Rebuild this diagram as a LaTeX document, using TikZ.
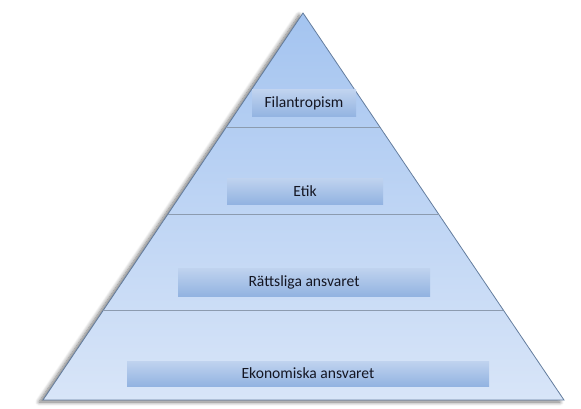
\documentclass[tikz,border=0pt]{standalone}
\usepackage{fontspec}
\setmainfont{Carlito}
\usetikzlibrary{calc,shadows.blur}
\definecolor{triTop}{RGB}{164,196,240}
\definecolor{triBot}{RGB}{216,229,248}
\definecolor{edgeC}{RGB}{100,125,158}
\definecolor{divC}{RGB}{140,155,175}
\definecolor{boxTop}{RGB}{192,211,239}
\definecolor{boxBot}{RGB}{146,179,225}
\definecolor{txtC}{RGB}{20,22,35}
\tikzset{
  level/.style={top color=boxTop, bottom color=boxBot, draw=none,
    inner sep=0pt, text=txtC, font=\fontsize{15.6}{18}\selectfont},
  divider/.style={draw=divC, line width=0.8pt},
}
\begin{document}
\begin{tikzpicture}[x=1pt,y=-1pt]
\useasboundingbox (0,0) rectangle (581,409);
\coordinate (A) at (303,13);
\coordinate (L) at (43,400);
\coordinate (R) at (564,400);
\path[top color=triTop, bottom color=triBot,
  blur shadow={shadow xshift=-4pt, shadow yshift=-2pt, shadow blur steps=8, shadow blur radius=4pt, shadow opacity=55}]
  (A) -- (R) -- (L) -- cycle;
\draw[edgeC, line width=0.8pt] (A) -- (R) -- (L) -- cycle;
\coordinate (d1l) at ($(A)!0.2946!(L)$);
\coordinate (d1r) at ($(A)!0.2946!(R)$);
\coordinate (d2l) at ($(A)!0.5194!(L)$);
\coordinate (d2r) at ($(A)!0.5194!(R)$);
\coordinate (d3l) at ($(A)!0.7674!(L)$);
\coordinate (d3r) at ($(A)!0.7674!(R)$);
\draw[divider] (d1l) -- (d1r);
\draw[divider] (d2l) -- (d2r);
\draw[divider] (d3l) -- (d3r);
\node[level, minimum width=104pt, minimum height=27pt] (fil) at (304,103.5) {Filantropism};
\node[level, minimum width=156pt, minimum height=26pt] (etik) at (305,191) {Etik};
\node[level, minimum width=252pt, minimum height=28pt] (ratt) at (304,282) {Rättsliga ansvaret};
\node[level, minimum width=362pt, minimum height=25pt] (eko) at (308,373.5) {Ekonomiska ansvaret};
\end{tikzpicture}
\end{document}
